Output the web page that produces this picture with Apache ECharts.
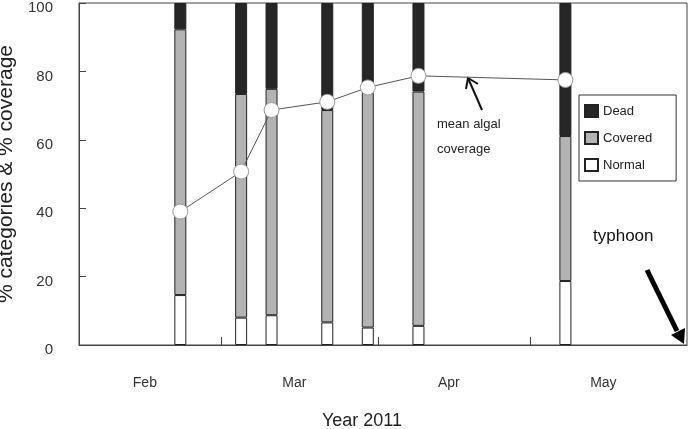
<!DOCTYPE html>
<html>
<head>
<meta charset="utf-8">
<script src="https://cdn.jsdelivr.net/npm/echarts@6/dist/echarts.min.js"></script>
<style>
  html, body { margin: 0; padding: 0; background: #fff; }
  #chart { width: 689px; height: 429px; }
</style>
</head>
<body>
<div id="chart"></div>
<script>
// survey dates, 2011
const sampleDates = ['2011-02-21', '2011-03-05', '2011-03-11', '2011-03-22', '2011-03-30', '2011-04-09', '2011-05-08']
// % of colonies in each category
const normalPct = [14.6, 8.0, 8.7, 6.6, 5.1, 5.6, 18.7]
const coveredPct = [77.7, 65.4, 66.2, 62.1, 68.6, 68.5, 42.4]
const deadPct = [7.7, 26.6, 25.1, 31.3, 26.3, 25.9, 38.9]
// mean algal coverage (%)
const meanCoverage = [39.0, 50.7, 68.7, 71.1, 75.3, 78.7, 77.5]
// month ticks on the x axis
const monthStarts = ['2011-02-01', '2011-03-01', '2011-04-01', '2011-05-01', '2011-06-01']
const monthNames = ['Feb', 'Mar', 'Apr', 'May']
const yTicks = [0, 20, 40, 60, 80, 100]

const DAY = 24 * 3600 * 1000
const ts = d => new Date(d).getTime()
const starts = monthStarts.map(ts)
// labels sit roughly in the middle of each month
const labelValues = monthNames.map((m, i) => (starts[i] + starts[i + 1]) / 2 - DAY)

const FONT = 'Liberation Sans, Arial, sans-serif'

// value first so the stack runs on y, date second on x
function pairs(vals) {
  return sampleDates.map((d, i) => [vals[i], ts(d)])
}

function barSeries(name, vals, color) {
  return {
    name: name,
    type: 'bar',
    stack: 'cat',
    barWidth: 12,
    encode: { x: 1, y: 0 },
    data: pairs(vals),
    itemStyle: { color: color, borderColor: '#222', borderWidth: 1 },
    emphasis: { disabled: true }
  }
}

const chart = echarts.init(document.getElementById('chart'), null, { renderer: 'canvas' })
chart.setOption({
  animation: false,
  backgroundColor: '#fff',
  textStyle: { fontFamily: FONT },
  grid: {
    left: 79,
    right: 2,
    top: 3,
    bottom: 84,
    outerBoundsMode: 'none',
    show: true,
    borderColor: '#444',
    borderWidth: 1
  },
  legend: {
    orient: 'vertical',
    left: 579,
    top: 95,
    data: ['Dead', 'Covered', 'Normal'],
    icon: 'rect',
    itemWidth: 13,
    itemHeight: 12,
    itemGap: 13,
    padding: [9, 24, 9, 5],
    borderColor: '#333',
    borderWidth: 1,
    textStyle: { fontSize: 13, color: '#222', fontFamily: FONT },
    selectedMode: false
  },
  xAxis: {
    type: 'value',
    min: starts[0],
    max: starts[starts.length - 1],
    name: 'Year 2011',
    nameLocation: 'middle',
    nameGap: 67,
    nameTextStyle: { fontSize: 18, color: '#222', fontFamily: FONT, padding: [0, 42, 0, 0] },
    axisLine: { show: true, lineStyle: { color: '#444', width: 1 } },
    axisTick: {
      show: true,
      inside: true,
      length: 8,
      customValues: starts.slice(1, -1),
      lineStyle: { color: '#444' }
    },
    axisLabel: {
      customValues: labelValues,
      margin: 31,
      fontSize: 14,
      color: '#333',
      fontFamily: FONT,
      formatter: v => {
        const i = starts.findIndex((s, k) => v >= s && v < starts[k + 1])
        return i >= 0 ? monthNames[i] : ''
      }
    },
    splitLine: { show: false }
  },
  yAxis: {
    type: 'value',
    min: yTicks[0],
    max: yTicks[yTicks.length - 1],
    interval: yTicks[1] - yTicks[0],
    name: '% categories & % coverage',
    nameLocation: 'middle',
    nameGap: 59,
    nameTextStyle: { fontSize: 21, color: '#222', fontFamily: FONT },
    axisLine: { show: true, lineStyle: { color: '#444' } },
    axisTick: { show: true, inside: true, length: 7, lineStyle: { color: '#444' } },
    axisLabel: { margin: 26, fontSize: 15, color: '#333', fontFamily: FONT, verticalAlign: 'top', lineHeight: 10 },
    splitLine: { show: false }
  },
  series: [
    barSeries('Normal', normalPct, '#ffffff'),
    barSeries('Covered', coveredPct, '#b3b3b3'),
    barSeries('Dead', deadPct, '#262626'),
    {
      name: 'mean algal coverage',
      type: 'line',
      encode: { x: 1, y: 0 },
      data: pairs(meanCoverage),
      symbol: 'circle',
      symbolSize: 15,
      lineStyle: { color: '#555', width: 1 },
      itemStyle: { color: '#fff', borderColor: '#999', borderWidth: 1 },
      emphasis: { disabled: true },
      z: 5
    }
  ],
  graphic: [
    { type: 'text', left: 437, top: 118, style: { text: 'mean algal', font: '13px ' + FONT, fill: '#222' } },
    { type: 'text', left: 437, top: 143, style: { text: 'coverage', font: '13px ' + FONT, fill: '#222' } },
    { type: 'line', shape: { x1: 482, y1: 110, x2: 468, y2: 78 }, style: { stroke: '#111', lineWidth: 2 } },
    { type: 'polyline', shape: { points: [[466, 89], [468, 78], [478, 84]] }, style: { stroke: '#111', lineWidth: 2, fill: null } },
    { type: 'text', left: 593, top: 228, style: { text: 'typhoon', font: '17px ' + FONT, fill: '#111' } },
    { type: 'line', shape: { x1: 647, y1: 270, x2: 677, y2: 331 }, style: { stroke: '#000', lineWidth: 5 } },
    { type: 'polygon', shape: { points: [[671, 335], [685, 328], [684, 344]] }, style: { fill: '#000' } }
  ]
})
</script>
</body>
</html>
